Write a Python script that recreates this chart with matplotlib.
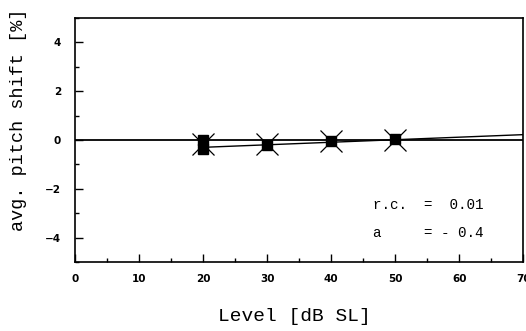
import matplotlib
matplotlib.use("Agg")
import matplotlib.pyplot as plt
from matplotlib.ticker import MultipleLocator

# data
sq_x = [20, 20, 30, 40, 50]
sq_y = [0.0, -0.37, -0.2, -0.03, 0.05]
x_x = [20, 30, 40, 50]
x_y = [-0.15, -0.18, -0.03, 0.0]
fit_x = [20, 70]
fit_y = [-0.3, 0.22]
ref_x = [0, 70]
ref_y = [0, 0]
xticks = [0, 10, 20, 30, 40, 50, 60, 70]
yticks = [-4, -2, 0, 2, 4]

fig = plt.figure(figsize=(5.26, 3.31), dpi=100)
ax = fig.add_axes([0.1426, 0.2085, 0.852, 0.737])
ax.plot(ref_x, ref_y, color='black', lw=1.3)
ax.plot(fit_x, fit_y, color='black', lw=1.0)
ax.plot(x_x, x_y, ls='none', marker='x', ms=16, mew=0.9, color='black')
ax.plot(sq_x, sq_y, ls='none', marker='s', ms=7.5, color='black')

ax.set_xlim(0, 70)
ax.set_ylim(-5, 5)
ax.set_xticks(xticks)
ax.set_yticks(yticks)
ax.xaxis.set_minor_locator(MultipleLocator(5))
ax.yaxis.set_minor_locator(MultipleLocator(1))
ax.tick_params(which='major', direction='in', length=6, width=1.0)
ax.tick_params(which='minor', direction='in', length=3, width=1.0)
ax.tick_params(axis='x', pad=9)
ax.tick_params(axis='y', pad=10)
for lab in ax.get_xticklabels() + ax.get_yticklabels():
    lab.set_fontsize(7.5)
    lab.set_fontweight('bold')
for s in ax.spines.values():
    s.set_linewidth(1.2)

ax.set_xlabel('Level [dB SL]', family='Liberation Mono', fontsize=14)
ax.set_ylabel('avg. pitch shift [%]', family='Liberation Mono', fontsize=13.3)
ax.xaxis.set_label_coords(0.49, -0.19)
ax.yaxis.set_label_coords(-0.107, 0.582)

ax.text(0.665, 0.232, 'r.c.  =  0.01', transform=ax.transAxes, family='Liberation Mono',
        fontsize=10.3, va='center')
ax.text(0.665, 0.12, 'a     = - 0.4', transform=ax.transAxes, family='Liberation Mono',
        fontsize=10.3, va='center')

fig.savefig('out.png', dpi=100)
